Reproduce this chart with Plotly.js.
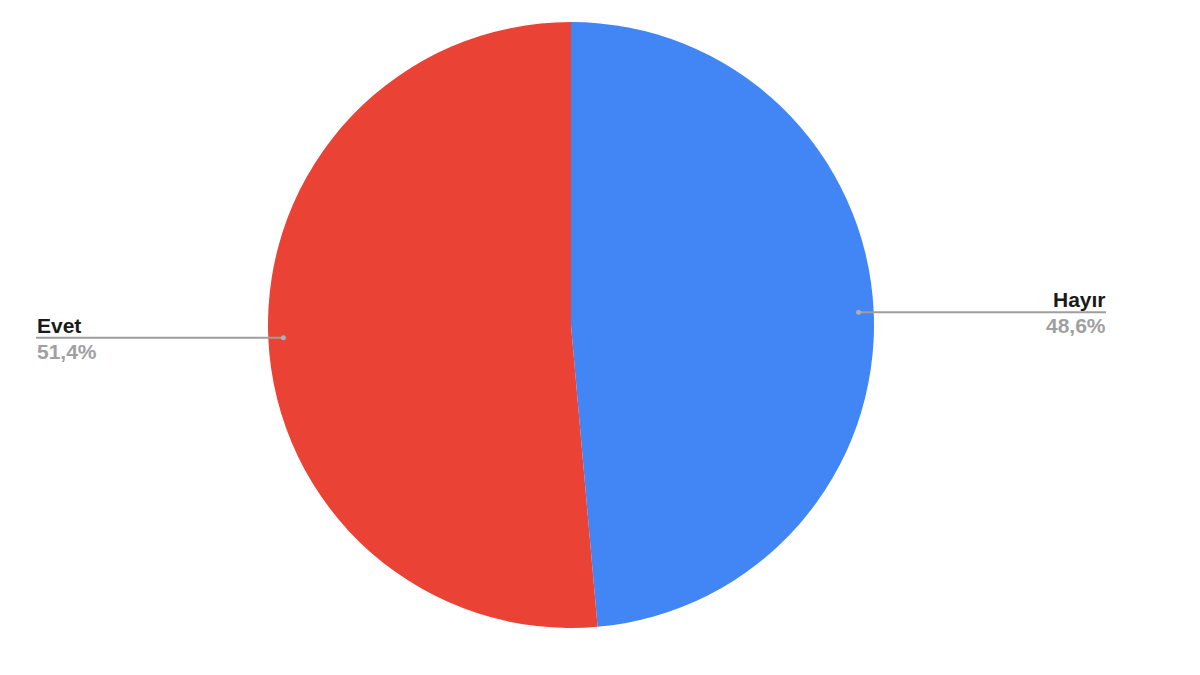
<!DOCTYPE html>
<html>
<head>
<meta charset="utf-8">
<script src="https://cdn.plot.ly/plotly-3.0.1.min.js"></script>
<style>
  html, body { margin: 0; padding: 0; background: #fff; }
  #chart { width: 1200px; height: 675px; }
</style>
</head>
<body>
<div id="chart"></div>
<script>
// Slice data
var labels = ['Hayır', 'Evet'];
var values = [48.6, 51.4];
var colors = ['#4285F4', '#EA4335'];

var W = 1200, H = 675;
var cx = 571, cy = 325, R = 303;   // pie centre and radius in px
var labelReach = 535;               // how far from centre the leader lines run

var total = values.reduce(function (a, b) { return a + b; }, 0);

var shapes = [];
var annotations = [];
var start = 0;
values.forEach(function (v, i) {
	var frac = v / total;
	// clockwise from 12 o'clock, same as the pie below
	var mid = (start + frac / 2) * 2 * Math.PI;
	start += frac;
	var ax = cx + 0.95 * R * Math.sin(mid);
	var ay = cy - 0.95 * R * Math.cos(mid);
	var right = Math.sin(mid) >= 0;
	var endX = right ? cx + labelReach : cx - labelReach;
	var px = function (x) { return x / W; };
	var py = function (y) { return 1 - y / H; };

	shapes.push({
		type: 'line', xref: 'paper', yref: 'paper',
		x0: px(ax), y0: py(ay), x1: px(endX), y1: py(ay),
		line: { color: '#9e9e9e', width: 2 }
	});
	shapes.push({
		type: 'circle', xref: 'paper', yref: 'paper',
		x0: px(ax - 2.5), y0: py(ay - 2.5), x1: px(ax + 2.5), y1: py(ay + 2.5),
		fillcolor: '#b0b0b0', line: { width: 0 }
	});
	annotations.push({
		xref: 'paper', yref: 'paper', x: px(endX), y: py(ay),
		xanchor: right ? 'right' : 'left', yanchor: 'bottom',
		text: labels[i], showarrow: false, xshift: right ? 2 : -1, yshift: -1,
		font: { family: 'Liberation Sans, Arial, sans-serif', size: 21, color: '#1a1a1a', weight: 'bold' }
	});
	annotations.push({
		xref: 'paper', yref: 'paper', x: px(endX), y: py(ay),
		xanchor: right ? 'right' : 'left', yanchor: 'top',
		text: (frac * 100).toFixed(1).replace('.', ',') + '%', showarrow: false,
		xshift: right ? 2 : -1,
		font: { family: 'Liberation Sans, Arial, sans-serif', size: 21, color: '#a0a0a0', weight: 'bold' }
	});
});

var pieData = [{
	type: 'pie',
	labels: labels,
	values: values,
	sort: false,
	direction: 'clockwise',
	rotation: 0,
	textinfo: 'none',
	hoverinfo: 'label+percent',
	marker: { colors: colors, line: { width: 0 } },
	domain: { x: [(cx - R) / W, (cx + R) / W], y: [(H - cy - R) / H, (H - cy + R) / H] }
}];

Plotly.newPlot('chart', pieData, {
	width: W,
	height: H,
	margin: { l: 0, r: 0, t: 0, b: 0 },
	showlegend: false,
	paper_bgcolor: '#ffffff',
	shapes: shapes,
	annotations: annotations
}, { displayModeBar: false });
</script>
</body>
</html>
